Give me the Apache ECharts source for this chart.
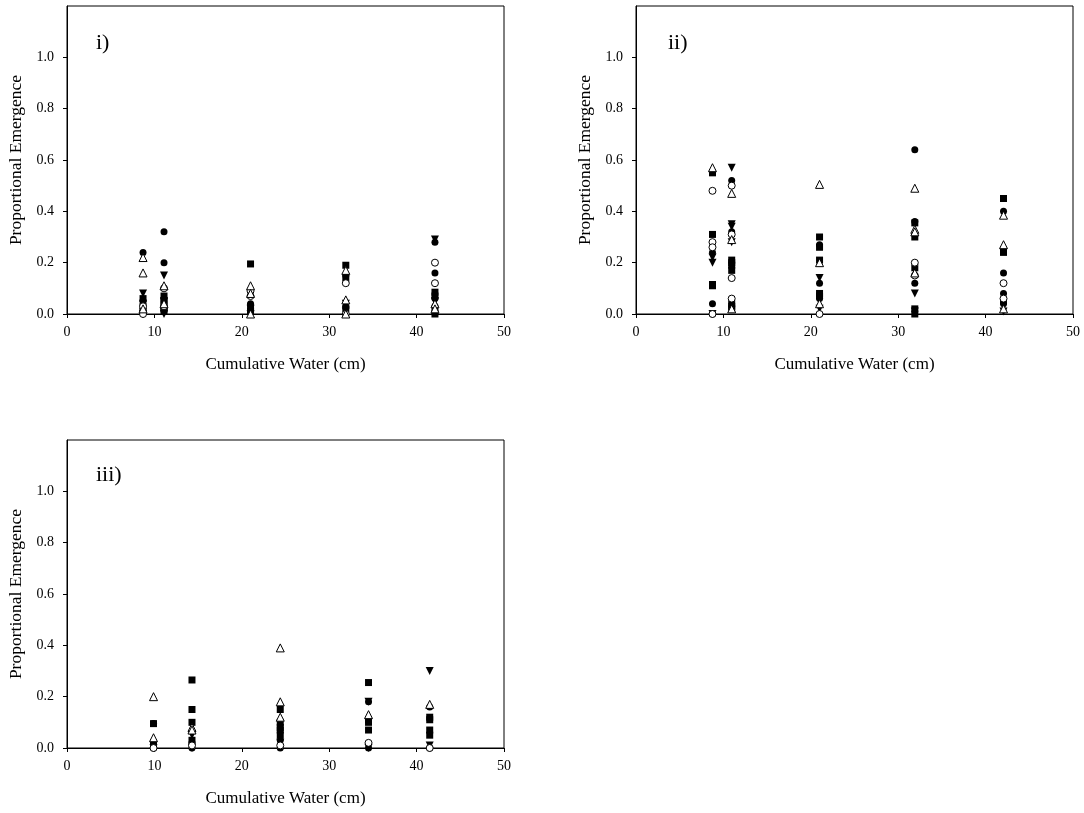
<!DOCTYPE html>
<html>
<head>
<meta charset="utf-8">
<script src="https://cdn.jsdelivr.net/npm/echarts@6/dist/echarts.min.js"></script>
<style>
  html, body { margin: 0; padding: 0; background: #fff; }
  #chart { width: 1084px; height: 813px; }
</style>
</head>
<body>
<div id="chart"></div>
<script>
// Cumulative water (cm) at each sampling, per panel
const waterI = [8.7, 11.1, 21.0, 31.9, 42.1];
const waterII = [8.75, 10.95, 21.0, 31.9, 42.05];
const waterIII = [9.9, 14.3, 24.4, 34.5, 41.5];

// Proportional emergence, one list per sampling column, per marker group
// Panel i)
const filledCircleI = [[0.24, 0.05, 0.01], [0.32, 0.20, 0.06, 0.02], [0.04, 0.01], [0.15, 0.03], [0.28, 0.16, 0.06, 0.03]];
const openCircleI   = [[0.03, 0.0], [0.10, 0.03], [0.09, 0.07], [0.12, 0.0], [0.20, 0.12]];
const downTriI      = [[0.08, 0.04, 0.0], [0.15, 0.05, 0.0], [0.02, 0.0], [0.04, 0.01], [0.29, 0.05]];
const openTriI      = [[0.22, 0.16, 0.02], [0.11, 0.04], [0.11, 0.08, 0.0], [0.17, 0.055, 0.0], [0.04, 0.02]];
const squareI       = [[0.06, 0.03, 0.01], [0.07, 0.05, 0.04, 0.02, 0.01], [0.195, 0.03, 0.01], [0.19, 0.14, 0.02], [0.085, 0.07, 0.01, 0.0]];

// Panel ii)
const filledCircleII = [[0.24, 0.04, 0.0], [0.52, 0.32], [0.27, 0.12, 0.06], [0.64, 0.36, 0.12], [0.40, 0.16, 0.08, 0.04]];
const openCircleII   = [[0.48, 0.28, 0.26, 0.0], [0.50, 0.31, 0.14, 0.06], [0.0], [0.20, 0.15], [0.12, 0.06]];
const downTriII      = [[0.22, 0.20, 0.0], [0.57, 0.35, 0.34, 0.28], [0.14, 0.02], [0.08, 0.01], [0.01]];
const openTriII      = [[0.57], [0.47, 0.29, 0.02], [0.505, 0.20, 0.04], [0.49, 0.33, 0.32, 0.16], [0.385, 0.27, 0.02]];
const squareII       = [[0.55, 0.31, 0.11, 0.115], [0.21, 0.20, 0.19, 0.17, 0.04, 0.03, 0.02], [0.30, 0.26, 0.21, 0.08, 0.07], [0.355, 0.30, 0.18, 0.02, 0.0], [0.45, 0.25, 0.24, 0.05]];

// Panel iii)
const filledCircleIII = [[0.095, 0.01, 0.0], [0.02, 0.0], [0.03, 0.0], [0.18, 0.0], [0.16, 0.0]];
const openCircleIII   = [[0.0], [0.01], [0.01], [0.02], [0.0]];
const downTriIII      = [[0.0], [0.05, 0.0], [0.02], [0.18, 0.0], [0.30, 0.01]];
const openTriIII      = [[0.20, 0.04], [0.08, 0.07], [0.39, 0.18, 0.12], [0.13], [0.17]];
const squareIII       = [[0.095, 0.02], [0.265, 0.15, 0.10, 0.03], [0.15, 0.10, 0.08, 0.07, 0.05], [0.255, 0.11, 0.10, 0.07], [0.12, 0.11, 0.07, 0.05]];

const xTicks = [0, 10, 20, 30, 40, 50];
const yTicks = [0, 0.2, 0.4, 0.6, 0.8, 1.0];
const panelLabels = ['i)', 'ii)', 'iii)'];

const FONT = '"Liberation Serif", "Times New Roman", serif';

// Marker groups: filled circle, open circle, filled down-triangle, open up-triangle, filled square
const markers = [
  { symbol: 'circle', size: 7, rotate: 0, filled: true },
  { symbol: 'circle', size: 7, rotate: 0, filled: false },
  { symbol: 'triangle', size: 8, rotate: 180, filled: true },
  { symbol: 'triangle', size: 8, rotate: 0, filled: false },
  { symbol: 'rect', size: 7, rotate: 0, filled: true }
];

function toPoints(water, cols) {
  const pts = [];
  cols.forEach((vals, i) => vals.forEach(v => pts.push([water[i], v])));
  return pts;
}

const panels = [
  { water: waterI, groups: [filledCircleI, openCircleI, downTriI, openTriI, squareI] },
  { water: waterII, groups: [filledCircleII, openCircleII, downTriII, openTriII, squareII] },
  { water: waterIII, groups: [filledCircleIII, openCircleIII, downTriIII, openTriIII, squareIII] }
];

const grids = [
  { left: 67, top: 6, width: 437, height: 308 },
  { left: 636, top: 6, width: 437, height: 308 },
  { left: 67, top: 440, width: 437, height: 308 }
];

const xAxes = grids.map((g, i) => ({
  type: 'value', gridIndex: i, min: 0, max: 50, interval: 10,
  name: 'Cumulative Water (cm)', nameLocation: 'middle', nameGap: 42,
  nameTextStyle: { fontFamily: FONT, fontSize: 17, color: '#000' },
  axisLine: { show: true, onZero: false, lineStyle: { color: '#000', width: 1 } },
  axisTick: { show: true, inside: false, length: 4, lineStyle: { color: '#000' }, customValues: xTicks },
  axisLabel: { fontFamily: FONT, fontSize: 14, color: '#000', margin: 11, customValues: xTicks },
  splitLine: { show: false }
}));

const yAxes = grids.map((g, i) => ({
  type: 'value', gridIndex: i, min: 0, max: 1.2, interval: 0.2,
  name: 'Proportional Emergence', nameLocation: 'middle', nameGap: 42,
  nameTextStyle: { fontFamily: FONT, fontSize: 17.5, color: '#000' },
  axisLine: { show: true, onZero: false, lineStyle: { color: '#000', width: 1 } },
  axisTick: { show: true, inside: false, length: 4, lineStyle: { color: '#000' }, customValues: yTicks },
  axisLabel: { fontFamily: FONT, fontSize: 14, color: '#000', margin: 13,
    customValues: yTicks, formatter: v => v.toFixed(1) },
  splitLine: { show: false }
}));

const series = [];
panels.forEach((p, pi) => {
  p.groups.forEach((cols, gi) => {
    const m = markers[gi];
    series.push({
      type: 'scatter', xAxisIndex: pi, yAxisIndex: pi,
      symbol: m.symbol, symbolSize: m.size, symbolRotate: m.rotate,
      itemStyle: m.filled
        ? { color: '#000', borderWidth: 0, opacity: 1 }
        : { color: '#fff', borderColor: '#000', borderWidth: 1, opacity: 1 },
      emphasis: { disabled: true },
      data: toPoints(p.water, cols),
      z: m.filled ? 2 : 3,
      animation: false
    });
  });
});

const labelPos = [
  { left: 96, top: 32 },
  { left: 668, top: 32 },
  { left: 96, top: 464 }
];

const chart = echarts.init(document.getElementById('chart'), null, { renderer: 'canvas' });
chart.setOption({
  backgroundColor: '#fff',
  animation: false,
  grid: grids.map(g => Object.assign({ show: true, borderColor: '#000', borderWidth: 1, backgroundColor: 'transparent' }, g)),
  xAxis: xAxes,
  yAxis: yAxes,
  title: panelLabels.map((t, i) => ({
    text: t, left: labelPos[i].left, top: labelPos[i].top, padding: 0,
    textStyle: { fontFamily: FONT, fontSize: 22, fontWeight: 'normal', color: '#000' }
  })),
  series: series
});
</script>
</body>
</html>
